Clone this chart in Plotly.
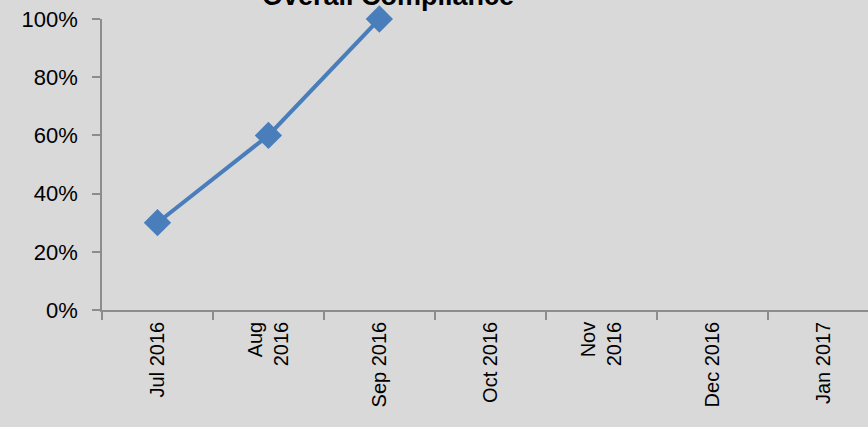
import plotly.graph_objects as go

categories = ["Jul 2016", "Aug<br>2016", "Sep 2016", "Oct 2016", "Nov<br>2016", "Dec 2016", "Jan 2017"]
compliance = [0.30, 0.60, 1.00, None, None, None, None]
title_text = "Overall Compliance"

BG = "#d9d9d9"
AXIS = "#8c8c8c"
BLUE = "#4a7ebb"
FONT = "Liberation Sans"

fig = go.Figure()
fig.add_trace(go.Scatter(
    x=categories, y=compliance, mode="lines+markers",
    line=dict(color=BLUE, width=4),
    marker=dict(symbol="diamond", size=21, color=BLUE),
    cliponaxis=False, connectgaps=False, showlegend=False,
))

fig.update_layout(
    width=868, height=427,
    margin=dict(l=102, r=0, t=19, b=117),
    paper_bgcolor=BG, plot_bgcolor=BG,
    font=dict(family=FONT, size=20, color="#000000"),
    annotations=[dict(
        text="<b>" + title_text + "</b>", xref="paper", yref="paper",
        x=0.3734, y=1.021, xanchor="center", yanchor="bottom",
        showarrow=False, font=dict(family=FONT, size=27, color="#000000"),
    )],
)
fig.update_xaxes(
    type="category", range=[-0.5, 6.405],
    showgrid=False, zeroline=False,
    showline=True, linecolor=AXIS, linewidth=1.5,
    ticks="outside", tickson="boundaries", ticklen=8, tickcolor=AXIS, tickwidth=1.5,
    tickangle=-90, tickfont=dict(family=FONT, size=20), ticklabelstandoff=2,
)
fig.update_yaxes(
    range=[0, 1], tickvals=[0, 0.2, 0.4, 0.6, 0.8, 1.0], tickformat=".0%",
    showgrid=False, zeroline=False,
    showline=True, linecolor=AXIS, linewidth=1.5,
    ticks="outside", ticklen=8, tickcolor=AXIS, tickwidth=1.5,
    tickfont=dict(family=FONT, size=22), ticklabelstandoff=10,
)

fig.write_html("out.html")
